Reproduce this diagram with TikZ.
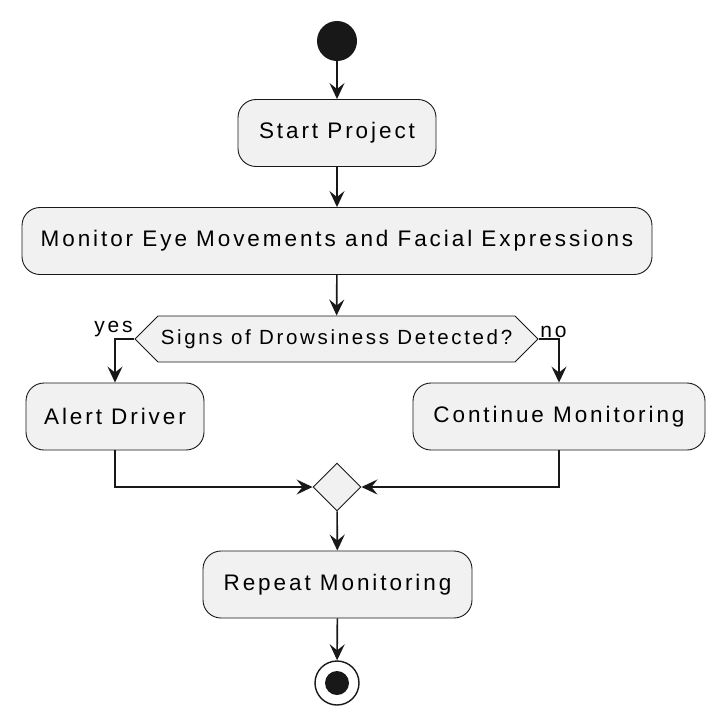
\documentclass[tikz,border=0pt]{standalone}
\usepackage{fontspec}
\setmainfont{Liberation Sans}[LetterSpace=13]
\usepackage{tikz}
\usetikzlibrary{arrows.meta}
\usetikzlibrary{shapes.geometric, shapes.symbols}
\definecolor{boxfill}{HTML}{F1F1F1}
\definecolor{ink}{HTML}{181818}
\tikzset{act/.style = {draw = ink, fill = boxfill, line width = 0.9pt, rounded corners = 18pt, minimum height = 67pt, inner sep = 0pt, font = \fontsize{22.5}{26}\selectfont}}
\tikzset{flow/.style = {draw = ink, line width = 1.6pt, -{Stealth[length = 16pt, width = 15pt, inset = 6pt]}}}
\tikzset{blabel/.style = {font = \fontsize{21}{24}\selectfont, inner sep = 1pt}}

\begin{document}
\begin{tikzpicture}[x = 1pt, y = -1pt]
    \useasboundingbox (0, 0) rectangle (726, 724);
    \node (start) [circle, fill = ink, minimum size = 40pt, inner sep = 0pt] at (337, 41) {};
    \node (sp) [act, minimum width = 198pt] at (337, 133) {Start Project};
    \node (mon) [act, minimum width = 630pt] at (337, 241) {Monitor Eye Movements and Facial Expressions};
    \node (dec) [signal, signal to = west and east, signal pointer angle = 90, draw = ink, fill = boxfill, line width = 0.9pt, minimum width = 403pt, minimum height = 46pt, inner sep = 0pt, font = \fontsize{20.5}{23}\selectfont] at (336.5, 339) {Signs of Drowsiness Detected?};
    \node (alert) [act, minimum width = 178pt] at (115, 416.5) {Alert Driver};
    \node (cont) [act, minimum width = 292pt] at (559, 416.5) {Continue Monitoring};
    \node (merge) [diamond, draw = ink, fill = boxfill, line width = 0.9pt, minimum size = 48pt, inner sep = 0pt] at (337, 487) {};
    \node (rep) [act, minimum width = 269pt] at (337.5, 584.5) {Repeat Monitoring};
    \node (end) [circle, draw = ink, fill = white, line width = 1.4pt, minimum size = 44pt, inner sep = 0pt] at (337, 683) {};
    \fill [ink] (end) circle (12);
    % arrows
    \foreach \a\b in {start/sp, sp/mon, mon/dec, merge/rep, rep/end} {
        \draw [flow] (\a) -- (\b);
    }
    \draw [flow] (dec.west) -| node [blabel, pos = 0, anchor = south east] {yes} (alert.north);
    \draw [flow] (dec.east) -| node [blabel, pos = 0, anchor = south west] {no} (cont.north);
    \draw [flow] (alert.south) |- (merge.west);
    \draw [flow] (cont.south) |- (merge.east);
\end{tikzpicture}
\end{document}
